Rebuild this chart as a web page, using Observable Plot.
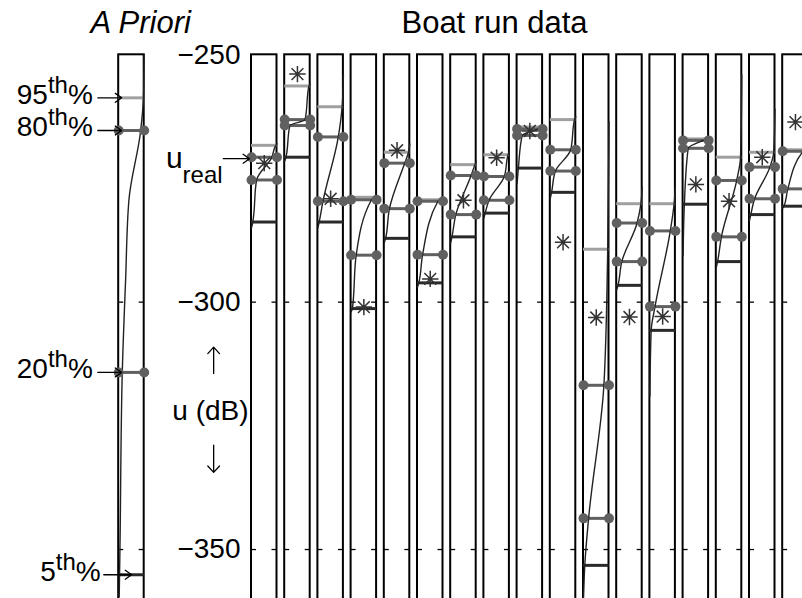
<!DOCTYPE html>
<html>
<head>
<meta charset="utf-8">
<script src="https://cdn.jsdelivr.net/npm/d3@7"></script>
<script src="https://cdn.jsdelivr.net/npm/@observablehq/plot@0.6"></script>
<style>
  html, body { margin: 0; padding: 0; background: #fff; overflow: hidden; }
  #chart { width: 802px; height: 598px; overflow: hidden; }
</style>
</head>
<body>
<div id="chart"></div>
<script>
// Prior distribution of u (dB): quantiles and CDF samples
const priorP95 = -258.7;
const priorP80 = -265.3;
const priorP20 = -314.2;
const priorP5 = -355.1;
const priorCdfP = [0.02, 0.05, 0.14, 0.27, 0.40, 0.86, 0.97, 1.0];
const priorCdfU = [-359.6, -349.5, -314.2, -295.6, -279.4, -265.4, -258.8, -250.0];

// Posterior for each boat run: quantiles, CDF end points, and the true u
const runs = d3.range(1, 18);
const runP95  = [-268.3, -256.3, -260.5, -278.8, -269.7, -279.3, -272.2, -270.2, -264.6, -263.1, -289.3, -280.1, -280.1, -267.0, -270.7, -269.7, -269.2];
const runP80  = [-270.7, -263.1, -266.6, -279.3, -271.9, -279.6, -274.4, -274.6, -265.0, -269.2, -316.8, -284.0, -285.6, -267.3, -275.4, -272.7, -269.5];
const runP20  = [-275.3, -264.3, -279.6, -290.5, -281.1, -290.4, -282.3, -279.4, -266.3, -273.5, -343.7, -291.8, -300.9, -268.9, -286.8, -279.1, -277.1];
const runP5   = [-283.8, -270.7, -283.8, -301.3, -287.1, -296.1, -286.8, -282.0, -272.9, -277.8, -353.2, -296.6, -305.7, -280.2, -291.8, -282.3, -280.6];
const runLow  = [-285.0, -271.5, -285.0, -302.0, -288.0, -297.0, -288.0, -283.0, -276.0, -279.0, -360.0, -297.5, -319.0, -290.6, -293.0, -283.5, -281.0];
const runHigh = [-268.0, -256.0, -254.0, -278.5, -268.0, -279.0, -271.5, -269.5, -264.5, -262.5, -263.5, -276.7, -276.7, -266.5, -254.0, -261.0, -268.5];
const runReal = [-271.9, -253.9, -279.1, -301.0, -269.3, -295.3, -279.4, -270.8, -265.4, -287.9, -303.1, -303.0, -302.9, -276.2, -279.6, -270.7, -263.6];
const runCdfP = [0, 0.05, 0.2, 0.8, 0.95, 1];

// Axis
const yTicks = [-250, -300, -350];
const yLimits = [-360, -250];
const percentileLabels = ["95th%", "80th%", "20th%", "5th%"];
const uRealArrowAt = -271.0;

// Layout in column units: the prior sits at column -4, runs at 0..16
const W = 0.768;     // column width
const TICK = 0.15;   // inner tick length
const priorSlot = -4;

const cols = [{slot: priorSlot, p95: priorP95, p80: priorP80, p20: priorP20, p5: priorP5}]
  .concat(runs.map((r, i) => ({slot: i, run: r, p95: runP95[i], p80: runP80[i], p20: runP20[i], p5: runP5[i], real: runReal[i]})));

const curvePts = [];
priorCdfP.forEach((p, j) => curvePts.push({slot: priorSlot, p, u: priorCdfU[j]}));
runs.forEach((r, i) => {
  const us = [runLow[i], runP5[i], runP20[i], runP80[i], runP95[i], runHigh[i]];
  runCdfP.forEach((p, j) => curvePts.push({slot: i, p, u: us[j]}));
});

const dotPts = cols.flatMap(c => [c.p80, c.p20].flatMap(u => [{x: c.slot, u}, {x: c.slot + W, u}]));
const tickPts = cols.flatMap(c => yTicks.slice(1).flatMap(u => [
  {x1: c.slot, x2: c.slot + TICK, u},
  {x1: c.slot + W - TICK, x2: c.slot + W, u}
]));

const priorVals = [priorP95, priorP80, priorP20, priorP5];
const labelRows = percentileLabels.map((t, i) => ({
  text: t, u: priorVals[i],
  tx: i < 3 ? priorSlot - 0.78 : priorSlot - 0.54,
  ax1: i < 3 ? priorSlot - 0.63 : priorSlot - 0.45,
  ax2: i < 3 ? priorSlot + 0.09 : priorSlot + 0.39
}));

// arrows beside the y label
const yLabelArrows = [
  {x: -1.14, from: -314.4, to: -309.1},
  {x: -1.14, from: -328.9, to: -334.4}
];

// MATLAB-style eight-armed asterisk
const asterisk8 = {
  draw(ctx, size) {
    const r = Math.sqrt(size / Math.PI), d = r * 0.72;
    ctx.moveTo(-r, 0); ctx.lineTo(r, 0);
    ctx.moveTo(0, -r); ctx.lineTo(0, r);
    ctx.moveTo(-d, -d); ctx.lineTo(d, d);
    ctx.moveTo(-d, d); ctx.lineTo(d, -d);
  }
};

const font = "'Liberation Sans', Arial, Helvetica, sans-serif";

const chart = Plot.plot({
  width: 802,
  height: 598,
  marginLeft: 251,
  marginTop: 54,
  marginRight: 0,
  marginBottom: 0,
  style: {fontFamily: font, fontSize: "28px", background: "white", color: "black"},
  x: {domain: [priorSlot, 16], range: [118.2, 782.2], axis: null},
  y: {domain: yLimits, range: [598.5, 54.3]},
  marks: [
    Plot.axisY({ticks: yTicks, tickSize: 0, tickPadding: 11, tickFormat: d3.format("d"), label: null, fontSize: 28}),
    // column frames
    Plot.rect(cols, {x1: "slot", x2: d => d.slot + W, y1: yLimits[0] - 5, y2: yLimits[1], fill: "none", stroke: "black", strokeWidth: 2}),
    Plot.ruleY(tickPts, {y: "u", x1: "x1", x2: "x2", stroke: "black", strokeWidth: 1.3}),
    // quantile levels
    Plot.ruleY(cols, {y: "p95", x1: "slot", x2: d => d.slot + W, stroke: "#a0a0a0", strokeWidth: 3}),
    Plot.ruleY(cols, {y: "p80", x1: "slot", x2: d => d.slot + W, stroke: "#606060", strokeWidth: 3}),
    Plot.ruleY(cols, {y: "p20", x1: "slot", x2: d => d.slot + W, stroke: "#606060", strokeWidth: 3}),
    Plot.ruleY(cols, {y: "p5", x1: "slot", x2: d => d.slot + W, stroke: "#2a2a2a", strokeWidth: 3}),
    // cumulative distribution curves
    Plot.line(curvePts, {x: d => d.slot + d.p * W, y: "u", z: "slot", curve: "monotone-y", stroke: "#222", strokeWidth: 1.4}),
    Plot.dot(dotPts, {x: "x", y: "u", r: 5, fill: "#606060", stroke: "none"}),
    // true u for each run
    Plot.dot(cols.filter(c => c.run), {x: d => d.slot + W / 2, y: "real", symbol: asterisk8, r: 8.2, fill: "none", stroke: "#333", strokeWidth: 1.5}),
    // titles
    Plot.text(["A Priori"], {x: -3.34, y: -245.5, text: d => d, lineAnchor: "bottom", fontSize: 31, fontStyle: "italic"}),
    Plot.text(["Boat run data"], {x: 7.32, y: -245.5, text: d => d, lineAnchor: "bottom", fontSize: 31}),
    // percentile labels of the prior
    Plot.text(labelRows, {x: "tx", y: "u", text: "text", textAnchor: "end", lineAnchor: "bottom", dy: 6, fontSize: 28}),
    Plot.arrow(labelRows, {x1: "ax1", x2: "ax2", y1: "u", y2: "u", stroke: "black", strokeWidth: 1.3, headLength: 9, headAngle: 70}),
    // u_real marker
    Plot.text(["ureal"], {x: -0.87, y: uRealArrowAt, text: d => d, textAnchor: "end", lineAnchor: "bottom", dy: 9, fontSize: 30}),
    Plot.arrow([uRealArrowAt], {x1: -0.85, x2: -0.06, y1: d => d, y2: d => d, stroke: "black", strokeWidth: 1.3, headLength: 9, headAngle: 70}),
    // y label
    Plot.text(["u (dB)"], {x: -1.235, y: -322, text: d => d, fontSize: 28}),
    Plot.arrow(yLabelArrows, {x1: "x", x2: "x", y1: "from", y2: "to", stroke: "black", strokeWidth: 1.3, headLength: 10, headAngle: 85})
  ]
});

// superscripts and subscripts in the annotation labels
d3.select(chart).selectAll("text").each(function () {
  const t = this.textContent;
  const m = t.match(/^(\d+)th%$/);
  const el = d3.select(this);
  if (m) {
    el.text(m[1]);
    el.append("tspan").attr("font-size", 24).attr("dy", -11).text("th");
    el.append("tspan").attr("font-size", 28).attr("dy", 11).text("%");
  } else if (t === "ureal") {
    el.text("u");
    el.append("tspan").attr("font-size", 24).attr("dy", 15).text("real");
  }
});

document.getElementById("chart").appendChild(chart);
</script>
</body>
</html>
